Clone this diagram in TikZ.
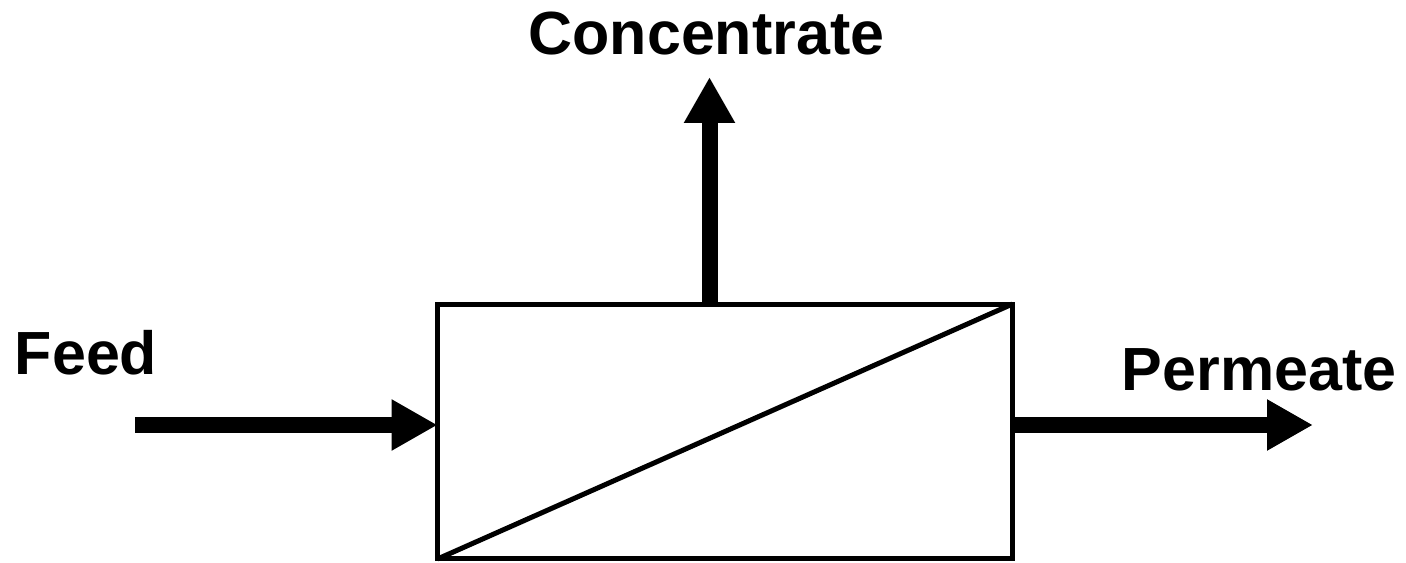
\documentclass[tikz,border=0pt]{standalone}
\usepackage{fontspec}
\setmainfont{Liberation Sans}
\usepackage{xcolor}
\usepackage{tikz}
\usetikzlibrary{arrows.meta, positioning, calc}
\definecolor{mydark}{RGB}{0,0,0}
\tikzset{
  line/.style={draw=mydark, line width=0.1cm},
  flow/.style={draw=mydark, line width=0.32cm, -{Triangle[length=0.92cm, width=0.96cm]}},
  unit/.style={draw=mydark, rectangle, line width=0.1cm, outer sep=0pt, minimum width=11.5cm, minimum height=5.1cm}
}

\begin{document}
\begin{tikzpicture}[x=0.02cm, y=-0.02cm, tag/.style={font=\fontsize{34.7}{40}\selectfont\bfseries, inner sep=0pt, anchor=base}]
  \useasboundingbox (0,0) rectangle (1406,563);
  \node [unit] (mem) at (725,431.5) {};
  \draw [line] (mem.south west) -- (mem.north east);

  \node [tag] (conc) at (706.5,55) {Concentrate};
  \node [tag] (feed) at (86,375) {Feed};
  \node [tag] (perm) at (1259,391) {Permeate};

  \coordinate (feedin) at (135,425);
  \coordinate (permout) at (1313,425);
  \coordinate (concout) at (709.5,77);

  \draw [flow] (feedin) -- (feedin -| mem.west);
  \draw [flow] (mem.east |- permout) -- (permout);
  \draw [flow] (mem.north -| concout) -- (concout);
\end{tikzpicture}
\end{document}
